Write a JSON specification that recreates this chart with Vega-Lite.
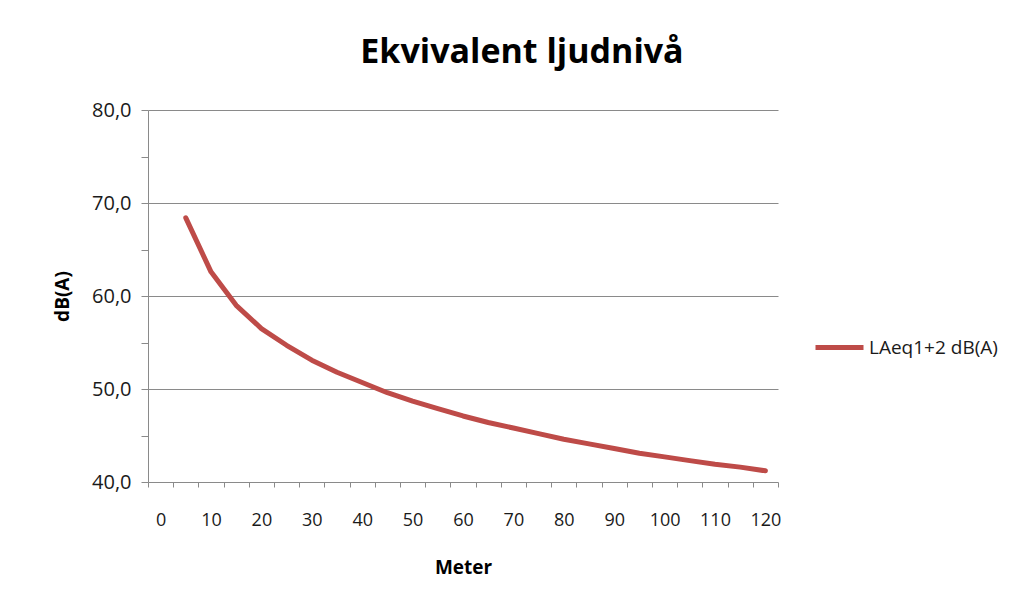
{
  "$schema": "https://vega.github.io/schema/vega-lite/v6.json",
  "autosize": "none",
  "width": 630,
  "height": 372,
  "padding": {"left": 148, "top": 110, "right": 246, "bottom": 122},
  "background": "white",
  "title": {
    "text": "Ekvivalent ljudnivå",
    "font": "Open Sans",
    "fontSize": 34,
    "fontWeight": "bold",
    "color": "#000000",
    "anchor": "middle",
    "dx": 59,
    "offset": 30
  },
  "config": {"view": {"stroke": null}},
  "data": {
    "values": [
      {"Meter": 5, "dB": 68.4, "Serie": "LAeq1+2 dB(A)"},
      {"Meter": 10, "dB": 62.6, "Serie": "LAeq1+2 dB(A)"},
      {"Meter": 15, "dB": 59.0, "Serie": "LAeq1+2 dB(A)"},
      {"Meter": 20, "dB": 56.5, "Serie": "LAeq1+2 dB(A)"},
      {"Meter": 25, "dB": 54.7, "Serie": "LAeq1+2 dB(A)"},
      {"Meter": 30, "dB": 53.1, "Serie": "LAeq1+2 dB(A)"},
      {"Meter": 35, "dB": 51.8, "Serie": "LAeq1+2 dB(A)"},
      {"Meter": 40, "dB": 50.7, "Serie": "LAeq1+2 dB(A)"},
      {"Meter": 45, "dB": 49.6, "Serie": "LAeq1+2 dB(A)"},
      {"Meter": 50, "dB": 48.7, "Serie": "LAeq1+2 dB(A)"},
      {"Meter": 55, "dB": 47.9, "Serie": "LAeq1+2 dB(A)"},
      {"Meter": 60, "dB": 47.1, "Serie": "LAeq1+2 dB(A)"},
      {"Meter": 65, "dB": 46.4, "Serie": "LAeq1+2 dB(A)"},
      {"Meter": 70, "dB": 45.8, "Serie": "LAeq1+2 dB(A)"},
      {"Meter": 75, "dB": 45.2, "Serie": "LAeq1+2 dB(A)"},
      {"Meter": 80, "dB": 44.6, "Serie": "LAeq1+2 dB(A)"},
      {"Meter": 85, "dB": 44.1, "Serie": "LAeq1+2 dB(A)"},
      {"Meter": 90, "dB": 43.6, "Serie": "LAeq1+2 dB(A)"},
      {"Meter": 95, "dB": 43.1, "Serie": "LAeq1+2 dB(A)"},
      {"Meter": 100, "dB": 42.7, "Serie": "LAeq1+2 dB(A)"},
      {"Meter": 105, "dB": 42.3, "Serie": "LAeq1+2 dB(A)"},
      {"Meter": 110, "dB": 41.9, "Serie": "LAeq1+2 dB(A)"},
      {"Meter": 115, "dB": 41.6, "Serie": "LAeq1+2 dB(A)"},
      {"Meter": 120, "dB": 41.2, "Serie": "LAeq1+2 dB(A)"}
    ]
  },
  "mark": {"type": "line", "strokeWidth": 5, "strokeCap": "round", "strokeJoin": "round"},
  "encoding": {
    "x": {
      "field": "Meter",
      "type": "ordinal",
      "sort": null,
      "scale": {
        "type": "band",
        "domain": [0, 5, 10, 15, 20, 25, 30, 35, 40, 45, 50, 55, 60, 65, 70, 75, 80, 85, 90, 95, 100, 105, 110, 115, 120],
        "paddingInner": 0,
        "paddingOuter": 0
      },
      "axis": {
        "title": "Meter",
        "titleFont": "Open Sans",
        "titleFontSize": 19,
        "titleFontWeight": "bold",
        "titleColor": "#000000",
        "titlePadding": 29,
        "labelExpr": "datum.value % 10 === 0 ? datum.label : ''",
        "labelAngle": 0,
        "labelFont": "Open Sans",
        "labelFontSize": 18,
        "labelColor": "#1a1a1a",
        "labelPadding": 24,
        "tickBand": "extent",
        "tickSize": 5,
        "tickColor": "#8a8a8a",
        "domainColor": "#8a8a8a",
        "grid": false
      }
    },
    "y": {
      "field": "dB",
      "type": "quantitative",
      "scale": {"domain": [40, 80], "nice": false, "zero": false},
      "axis": {
        "title": "dB(A)",
        "titleFont": "Open Sans",
        "titleFontSize": 19,
        "titleFontWeight": "bold",
        "titleColor": "#000000",
        "titlePadding": 19,
        "values": [40, 45, 50, 55, 60, 65, 70, 75, 80],
        "labelExpr": "datum.value % 10 === 0 ? replace(format(datum.value, '.1f'), '.', ',') : ''",
        "labelFont": "Open Sans",
        "labelFontSize": 20,
        "labelColor": "#1a1a1a",
        "labelPadding": 10,
        "tickSize": 7,
        "tickColor": "#8a8a8a",
        "domainColor": "#8a8a8a",
        "grid": true,
        "gridColor": "#8a8a8a",
        "gridOpacity": {"condition": {"test": "datum.value % 10 === 0 && datum.value > 40", "value": 1}, "value": 0}
      }
    },
    "color": {
      "field": "Serie",
      "type": "nominal",
      "scale": {"range": ["#BE4B48"]},
      "legend": {
        "title": null,
        "orient": "none",
        "legendX": 665,
        "legendY": 211,
        "symbolType": "stroke",
        "symbolSize": 2304,
        "symbolStrokeWidth": 5,
        "labelFont": "Open Sans",
        "labelFontSize": 19,
        "labelColor": "#1a1a1a",
        "labelOffset": 3
      }
    }
  }
}
